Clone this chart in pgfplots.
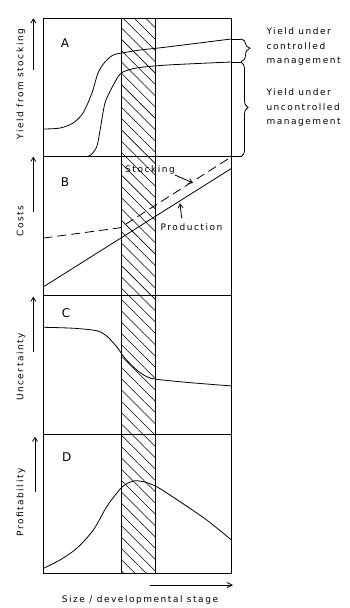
\documentclass[border=0pt]{standalone}
\usepackage{fontspec}
\setmainfont{DejaVu Sans}[LetterSpace=17]
\usepackage{pgfplots}
\pgfplotsset{compat=1.18}
\usetikzlibrary{patterns.meta,decorations.pathreplacing,arrows.meta}

\pgfplotsset{panel/.style={scale only axis, width=188bp, height=138.75bp,
  xmin=0, xmax=10, ymin=0, ymax=10, ticks=none,
  axis line style={line width=0.9bp}, anchor=north west}}
\newcommand{\band}{\addplot[draw=black, line width=0.9bp,
  pattern={Lines[angle=-45,distance=8bp,line width=0.55bp]}]
  coordinates {(4.15,0) (4.15,10) (5.96,10) (5.96,0) (4.15,0)};}
\tikzset{crv/.style={line width=0.8bp, smooth, tension=0.5},
  arr/.style={line width=0.8bp, -{Straight Barb[length=4bp,width=5bp]}}}

\begin{document}
\begin{tikzpicture}
\path[use as bounding box] (0,0) rectangle (350bp,-608bp);
% Panel A
\begin{axis}[panel, at={(43.5bp,-18bp)}]
\band
\addplot[crv] coordinates {(0,2.00)(0.88,2.07)(1.57,2.43)(2.10,3.15)(2.58,4.60)(2.90,6.04)(3.27,6.83)(3.70,7.33)(4.18,7.48)(5.13,7.69)(6.57,7.91)(10,8.49)};
\addplot[crv] coordinates {(2.0,0)(2.47,0.08)(2.83,0.72)(3.01,1.93)(3.27,3.87)(3.63,4.95)(3.96,5.75)(4.23,6.11)(4.97,6.40)(6.57,6.61)(10,6.83)};
\end{axis}
% Panel B
\begin{axis}[panel, at={(43.5bp,-156.75bp)}]
\band
\addplot[line width=0.8bp, dash pattern=on 9bp off 5bp] coordinates {(0,4.14)(4.07,4.88)(10,10)};
\addplot[line width=0.8bp] coordinates {(0,0.63)(10,9.16)};
\end{axis}
% Panel C
\begin{axis}[panel, at={(43.5bp,-295.5bp)}]
\band
\addplot[crv] coordinates {(0,7.71)(1.59,7.64)(2.83,7.46)(3.36,7.08)(3.89,6.31)(4.34,5.47)(4.96,4.63)(5.49,4.15)(6.02,3.96)(7.79,3.72)(10,3.48)};
\end{axis}
% Panel D
\begin{axis}[panel, at={(43.5bp,-434.25bp)}]
\band
\addplot[crv] coordinates {(0,0.34)(0.88,0.94)(1.77,1.78)(2.65,3.10)(3.36,4.78)(3.89,5.74)(4.24,6.27)(4.78,6.63)(5.31,6.58)(6.02,6.22)(7.26,5.14)(8.68,3.82)(10,2.38)};
\end{axis}

\begin{scope}[x=1bp, y=-1bp, font=\fontsize{9bp}{14.5bp}\selectfont]
% panel letters
\node[font=\fontsize{12bp}{12bp}\selectfont] at (65,43.3) {A};
\node[font=\fontsize{12bp}{12bp}\selectfont] at (65,181.7) {B};
\node[font=\fontsize{12bp}{12bp}\selectfont] at (66,313.3) {C};
\node[font=\fontsize{12bp}{12bp}\selectfont] at (66.7,456.7) {D};
% y labels and arrows
\node[rotate=90] at (21,84) {Yield from stocking};
\node[rotate=90] at (20,221) {Costs};
\node[rotate=90] at (21,367) {Uncertainty};
\node[rotate=90] at (21,502.5) {Profitability};
\draw[arr] (33.3,70) -- (33.3,18.3);
\draw[arr] (33.3,211.7) -- (33.3,156.7);
\draw[arr] (33.3,351.7) -- (33.3,296.7);
\draw[arr] (35,491.7) -- (35,436.7);
% right side braces
\draw[line width=0.8bp] (231.5,38.9) -- (241,38.9);
\draw[line width=0.8bp] (231.5,62) -- (241,62);
\draw[line width=0.8bp] (231.5,156.75) -- (241,156.75);
\draw[line width=0.8bp, decorate, decoration={brace, amplitude=9bp, aspect=0.4}] (241,38.9) -- (241,62);
\draw[line width=0.8bp, decorate, decoration={brace, amplitude=7bp, aspect=0.48}] (241,62) -- (241,156.75);
\node[anchor=west, align=left] at (263,47) {Yield under\\controlled\\management};
\node[anchor=west, align=left] at (263,108) {Yield under\\uncontrolled\\management};
% panel B annotations
\node at (150,170) {Stocking};
\draw[arr] (175,175) -- (193,183);
\node at (191.5,227.3) {Production};
\draw[arr] (181.7,218.3) -- (180,203.3);
% x axis
\draw[line width=0.8bp, -{Straight Barb[length=5bp,width=5bp]}] (150,585) -- (233,585);
\node at (140,600) {Size / developmental stage};
\end{scope}
\end{tikzpicture}
\end{document}
